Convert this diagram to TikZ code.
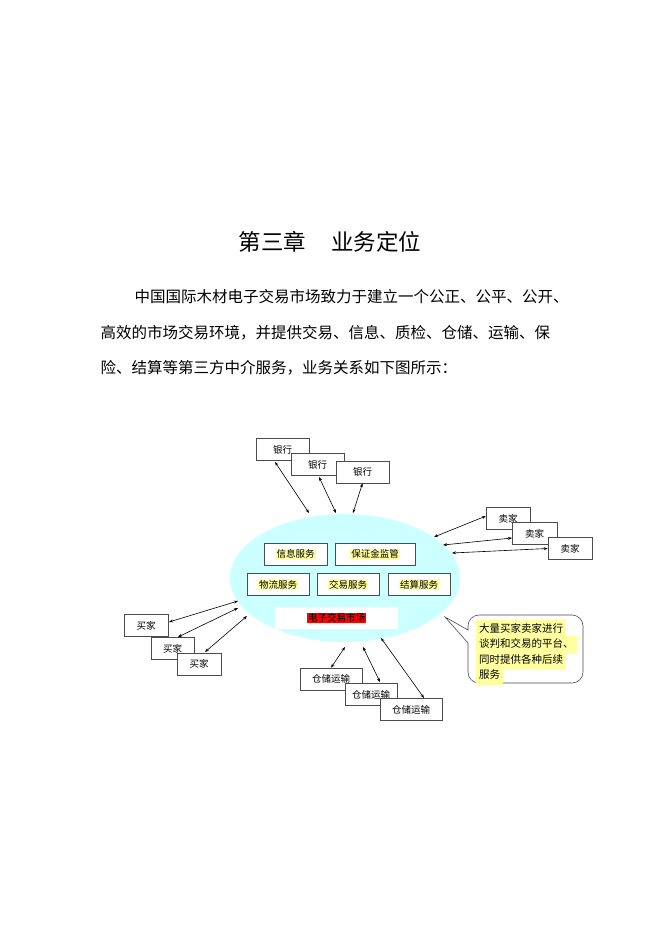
\documentclass[tikz,border=0pt]{standalone}
\usepackage{fontspec}
\setmainfont{Noto Sans CJK SC}
\usetikzlibrary{arrows.meta}
\definecolor{ell}{RGB}{204,255,255}
\definecolor{hl}{RGB}{255,255,160}
\begin{document}
\begin{tikzpicture}[x=1pt,y=-1pt,
 bx/.style={draw=black!70,fill=white,line width=0.6pt,minimum width=#1,minimum height=22,inner sep=0,font=\fontsize{9.5}{10}\selectfont},
 bx/.default=44,
 sv/.style={draw=black!70,fill=white,line width=0.6pt,minimum width=#1,minimum height=22,inner sep=0},
 lab/.style={fill=hl,inner sep=1pt,font=\fontsize{9.5}{10}\selectfont},
 ar/.style={{Stealth[length=4pt,width=3pt]}-{Stealth[length=4pt,width=3pt]},line width=0.6pt}]
\useasboundingbox (0,0) rectangle (662,936);
\node[font=\fontsize{22.5}{26}\selectfont] (title) at (330,242) {第三章\hspace{1.1em}业务定位};
\node[font=\fontsize{15.5}{20}\selectfont,anchor=west] (p1) at (131,297) {中国国际木材电子交易市场致力于建立一个公正、公平、公开、};
\node[font=\fontsize{15.5}{20}\selectfont,anchor=west] (p2) at (97,333) {高效的市场交易环境，并提供交易、信息、质检、仓储、运输、保};
\node[font=\fontsize{15.5}{20}\selectfont,anchor=west] (p3) at (97,368) {险、结算等第三方中介服务，业务关系如下图所示：};
% ellipse
\fill[ell] (345,578) ellipse [x radius=115,y radius=64];
\node[sv=63] (s1) at (295.5,554) {}; \node[lab] at (s1) {信息服务};
\node[sv=80] (s2) at (375,554) {}; \node[lab] at (s2) {保证金监管};
\node[sv=62] (s3) at (278,584.5) {}; \node[lab] at (s3) {物流服务};
\node[sv=62] (s4) at (348,584.5) {}; \node[lab] at (s4) {交易服务};
\node[sv=62] (s5) at (419,584.5) {}; \node[lab] at (s5) {结算服务};
\node[fill=white,minimum width=123,minimum height=22,inner sep=0] (em) at (336.5,618) {};
\node[fill=red,inner sep=1pt,font=\fontsize{9.5}{10}\selectfont] at (em) {电子交易市场};
% banks
\node[bx=53] (b1) at (282.5,449.5) {银行};
\node[bx=53] (b2) at (317.5,464.5) {银行};
\node[bx=53] (b3) at (362.5,472) {银行};
% sellers
\node[bx=44] (e1) at (508,518.5) {卖家};
\node[bx=45] (e2) at (534.5,533.5) {卖家};
\node[bx=44] (e3) at (570,548.5) {卖家};
% buyers
\node[bx=44] (u1) at (146,625.5) {买家};
\node[bx=43] (u2) at (172.5,648.5) {买家};
\node[bx=44] (u3) at (199,664) {买家};
% storage
\node[bx=62] (w1) at (331,679) {仓储运输};
\node[bx=52] (w2) at (371,694.5) {仓储运输};
\node[bx=62] (w3) at (411,709.5) {仓储运输};
% ellipse anchor coordinates
\coordinate (ea1) at (309,513); \coordinate (ea2) at (336,513); \coordinate (ea3) at (353,513);
\coordinate (ec1) at (434,537); \coordinate (ec2) at (443,545); \coordinate (ec3) at (452,553);
\coordinate (ed1) at (238,601); \coordinate (ed2) at (238,608); \coordinate (ed3) at (247,616);
\coordinate (ef1) at (345,647); \coordinate (ef2) at (363,647); \coordinate (ef3) at (381,638);
\draw[ar] (275,462) -- (ea1);
\draw[ar] (319,477) -- (ea2);
\draw[ar] (b3.south) -- (ea3);
\draw[ar] (486,516) -- (ec1);
\draw[ar] (512,538) -- (ec2);
\draw[ar] (e3.west) -- (ec3);
\draw[ar] (169,622) -- (ed1);
\draw[ar] (178,637) -- (ed2);
\draw[ar] (205,652) -- (ed3);
\draw[ar] (w1.north) -- (ef1);
\draw[ar] (380,682) -- (ef2);
\draw[ar] (424,698) -- (ef3);
% callout
\draw[black!70,fill=white,line width=0.6pt]
 (445,617) -- (468,643) [rounded corners=11pt] -- (468,683) -- (583,683) -- (583,615) -- (468,615) [sharp corners] -- (468,630) -- cycle;
\node[anchor=north west,inner sep=0,font=\fontsize{10.5}{12}\selectfont,align=left] (co) at (476,620)
 {\colorbox{hl}{\strut 大量买家卖家进行}\\[-4pt]\colorbox{hl}{\strut 谈判和交易的平台、}\\[-4pt]\colorbox{hl}{\strut 同时提供各种后续}\\[-4pt]\colorbox{hl}{\strut 服务}};
\end{tikzpicture}
\end{document}
